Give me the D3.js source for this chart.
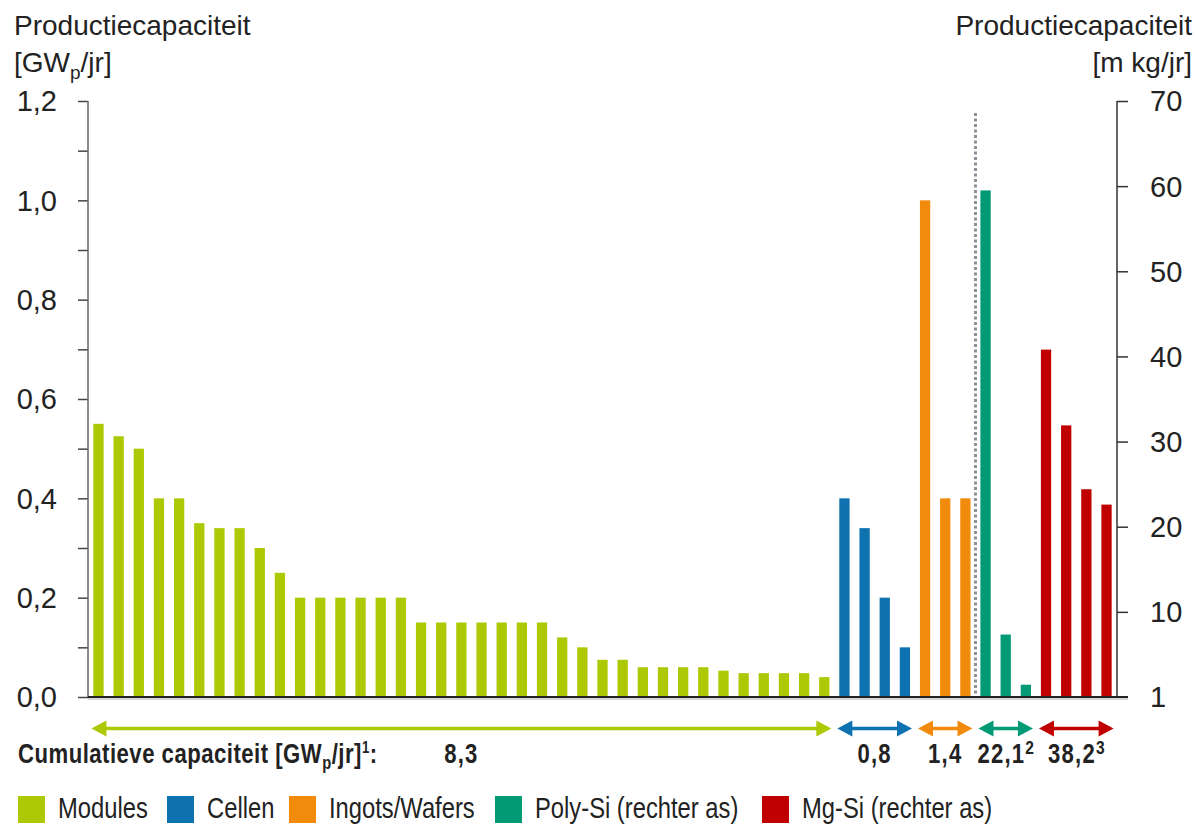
<!DOCTYPE html>
<html>
<head>
<meta charset="utf-8">
<script src="https://cdn.jsdelivr.net/npm/d3@7"></script>
<style>
  body { margin: 0; background: #fff; }
  svg text { fill: #222; font-family: "Liberation Sans", Arial, sans-serif; }
</style>
</head>
<body>
<div class="chart"></div>
<script>
// groups in the order they appear on the x axis
const categories = ['Modules', 'Cellen', 'Ingots/Wafers', 'Poly-Si (rechter as)', 'Mg-Si (rechter as)']
const colors = ['#adc905', '#0e71b0', '#f28b0c', '#009a74', '#c00000']

// left axis [GWp/jr]
const modules = [0.55, 0.525, 0.50, 0.40, 0.40, 0.35, 0.34, 0.34, 0.30, 0.25,
  0.20, 0.20, 0.20, 0.20, 0.20, 0.20,
  0.15, 0.15, 0.15, 0.15, 0.15, 0.15, 0.15,
  0.12, 0.10, 0.075, 0.075, 0.06, 0.06, 0.06, 0.06, 0.053, 0.048, 0.048, 0.048, 0.048, 0.04]
const cellen = [0.40, 0.34, 0.20, 0.10]
const wafers = [1.00, 0.40, 0.40]
// right axis [m kg/jr]
const polySi = [59.5, 7.6, 2.3]
const mgSi = [40.8, 31.9, 24.4, 22.6]

const totals = ['8,3', '0,8', '1,4', '22,1', '38,2']
const totalSup = ['', '', '', '2', '3']

const leftTicks = [0, 0.2, 0.4, 0.6, 0.8, 1.0, 1.2]
const leftMinor = d3.range(0, 1.21, 0.1)
const rightTicks = [1, 10, 20, 30, 40, 50, 60, 70]

const W = 1196, H = 826
const margin = {top: 101, left: 88, right: 79}
const width = W - margin.left - margin.right
const height = 596
const squeeze = 0.82   // no condensed font installed, so squeeze Liberation Sans

const groups = [modules, cellen, wafers, polySi, mgSi]
let bars = []
groups.forEach((g, gi) => g.forEach(v => bars.push({group: gi, value: v, right: gi >= 3})))
bars.forEach((b, i) => b.i = i)

var svg = d3.select('.chart').append('svg').attr('width', W).attr('height', H)
var chart = svg.append('g').attr('transform', `translate(${margin.left},${margin.top})`)

// condensed text: a group scaled horizontally
function narrow(parent, px, py) {
  return parent.append('g').attr('transform', `translate(${px},${py}) scale(${squeeze},1)`).append('text')
}

var x = d3.scaleBand().domain(bars.map(b => b.i)).range([0, width]).paddingInner(0.49).paddingOuter(0.265)
var yL = d3.scaleLinear().domain([0, 1.2]).range([height, 0])
var yR = d3.scaleLinear().domain([1, 10, 70]).range([height, height - height / 7, 0])

// bars
chart.selectAll('rect.bar').data(bars).enter().append('rect')
  .attr('class', 'bar')
  .attr('x', d => x(d.i))
  .attr('width', x.bandwidth())
  .attr('y', d => d.right ? yR(d.value) : yL(d.value))
  .attr('height', d => height - (d.right ? yR(d.value) : yL(d.value)))
  .attr('fill', d => colors[d.group])

// dotted divider between left-axis and right-axis groups
let firstPoly = bars.find(b => b.group == 3).i
let divX = (x(firstPoly - 1) + x.bandwidth() + x(firstPoly)) / 2
chart.append('line')
  .attr('x1', divX).attr('x2', divX).attr('y1', 12).attr('y2', height)
  .attr('stroke', '#8c9096').attr('stroke-width', 3).attr('stroke-dasharray', '3,2.5')

// left axis
var yaxisMinor = d3.axisLeft(yL).tickValues(leftMinor).tickSize(10).tickFormat('')
var gl = chart.append('g').call(yaxisMinor)
gl.select('.domain').remove()
gl.selectAll('line').attr('stroke', '#444').attr('stroke-width', 1.5)
chart.append('line').attr('x1', 0).attr('x2', 0).attr('y1', 0).attr('y2', height)
  .attr('stroke', '#666').attr('stroke-width', 1.5)
chart.selectAll('text.ltick').data(leftTicks).enter().append('text')
  .attr('class', 'ltick')
  .attr('x', -31).attr('y', d => yL(d)).attr('dy', '0.36em')
  .attr('text-anchor', 'end').attr('font-size', 29)
  .text(d => d3.format('.1f')(d).replace('.', ','))

// right axis
var yaxisR = d3.axisRight(yR).tickValues(rightTicks).tickSize(11).tickFormat('')
var gr = chart.append('g').attr('transform', `translate(${width},0)`).call(yaxisR)
gr.select('.domain').remove()
gr.selectAll('line').attr('stroke', '#333').attr('stroke-width', 1.5)
chart.append('line').attr('x1', width).attr('x2', width).attr('y1', 0).attr('y2', height)
  .attr('stroke', '#333').attr('stroke-width', 1.5)
chart.selectAll('text.rtick').data(rightTicks).enter().append('text')
  .attr('class', 'rtick')
  .attr('x', width + 33).attr('y', d => yR(d)).attr('dy', '0.36em')
  .attr('font-size', 29)
  .text(d => d)

// baseline
chart.append('line').attr('x1', 0).attr('x2', width + 11).attr('y1', height + 2).attr('y2', height + 2)
  .attr('stroke', '#d4d6d8').attr('stroke-width', 2)
chart.append('line').attr('x1', 0).attr('x2', width + 11).attr('y1', height).attr('y2', height)
  .attr('stroke', '#222').attr('stroke-width', 2)

// axis titles
function title(anchor, xpos, sub) {
  svg.append('text').attr('font-size', 28).attr('text-anchor', anchor)
    .attr('x', xpos).attr('y', 35).text('Productiecapaciteit')
  let t2 = svg.append('text').attr('font-size', 28).attr('text-anchor', anchor)
    .attr('x', xpos).attr('y', 72)
  sub(t2)
}
title('start', 14, t => {
  t.append('tspan').text('[GW')
  t.append('tspan').attr('font-size', 19).attr('dy', 7).text('p')
  t.append('tspan').attr('dy', -7).text('/jr]')
})
title('end', 1192, t => t.text('[m kg/jr]'))

// cumulative capacity arrows
const arrowY = 728.5 - margin.top
const step = x.step()
groups.forEach((g, gi) => {
  let gb = bars.filter(b => b.group == gi)
  let x0 = x(gb[0].i), x1 = x(gb[gb.length - 1].i) + x.bandwidth()
  let c = (x0 + x1) / 2, half = (gb.length * step) / 2 - 3
  let a = c - half, b = c + half
  chart.append('line').attr('x1', a + 10).attr('x2', b - 10).attr('y1', arrowY).attr('y2', arrowY)
    .attr('stroke', colors[gi]).attr('stroke-width', 3.5)
  chart.append('path')
    .attr('d', `M${a},${arrowY}L${a + 15},${arrowY - 8}L${a + 15},${arrowY + 8}Z M${b},${arrowY}L${b - 15},${arrowY - 8}L${b - 15},${arrowY + 8}Z`)
    .attr('fill', colors[gi])
  let t = narrow(chart, c, 763 - margin.top).attr('text-anchor', 'middle')
    .attr('font-size', 27).attr('font-weight', 'bold').attr('letter-spacing', 1.5)
  t.append('tspan').text(totals[gi])
  if (totalSup[gi]) t.append('tspan').attr('font-size', 19).attr('dy', -9).attr('letter-spacing', 0).text(totalSup[gi])
})

let lab = narrow(svg, 18, 763).attr('font-size', 27).attr('font-weight', 'bold').attr('letter-spacing', 0.6)
lab.append('tspan').text('Cumulatieve capaciteit [GW')
lab.append('tspan').attr('font-size', 18).attr('dy', 6).text('p')
lab.append('tspan').attr('dy', -6).text('/jr]')
lab.append('tspan').attr('font-size', 16).attr('dy', -10).text('1')
lab.append('tspan').attr('dy', 10).text(':')

// legend
const legendX = [18, 167, 289, 495, 762]
var legend = svg.append('g')
categories.forEach((c, i) => {
  legend.append('rect').attr('x', legendX[i]).attr('y', 796).attr('width', 27).attr('height', 27)
    .attr('fill', colors[i])
  narrow(legend, legendX[i] + 40, 818).attr('font-size', 29).text(c)
})
</script>
</body>
</html>
